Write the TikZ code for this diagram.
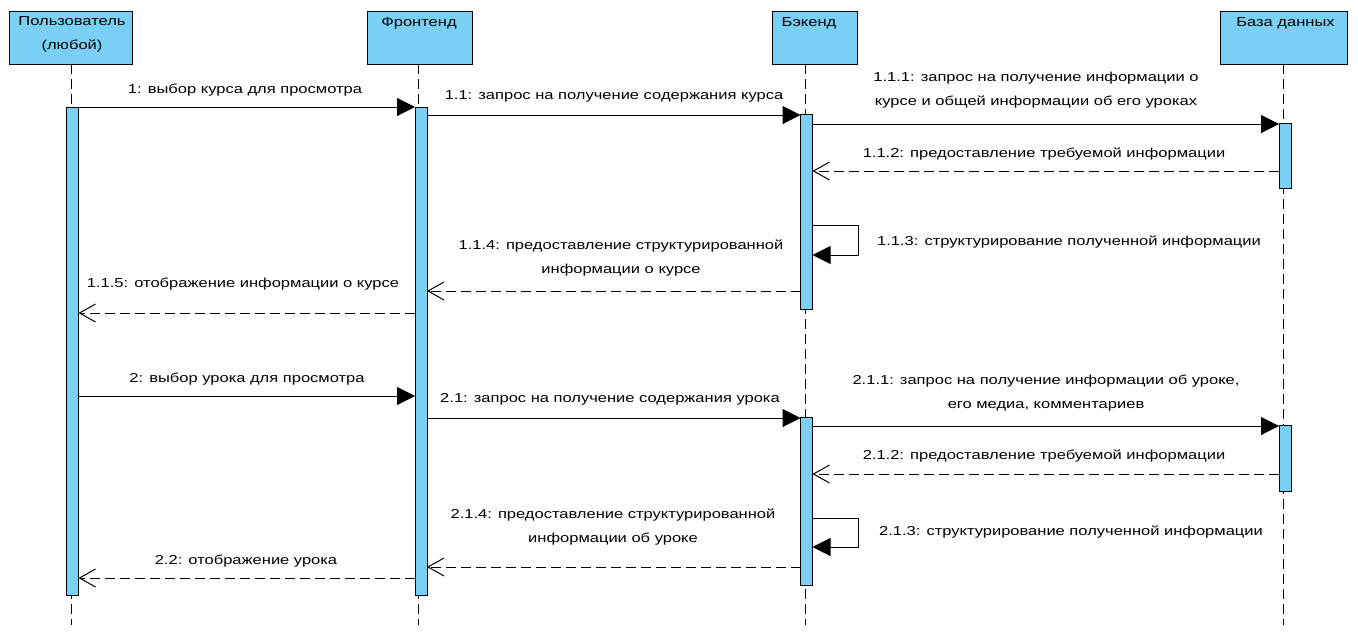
\documentclass[tikz,border=0pt]{standalone}
\usepackage{fontspec}
\setmainfont{Liberation Sans}[FakeStretch=1.27]
\usetikzlibrary{arrows.meta}
\definecolor{lblue}{RGB}{122,207,245}
\begin{document}
\begin{tikzpicture}[x=1pt,y=-1pt,
  every node/.style={font=\fontsize{13}{24}\selectfont, inner sep=0pt, outer sep=0pt},
  head/.style={draw, fill=lblue, line width=1pt},
  bar/.style={draw, fill=lblue, line width=1pt, minimum width=12pt},
  life/.style={line width=1pt, dash pattern=on 10pt off 5pt},
  msg/.style={line width=1pt, -{Triangle[length=18pt,width=18pt]}},
  ret/.style={line width=1pt, dash pattern=on 10pt off 5pt, -{Straight Barb[length=16pt,width=18pt]}},
  lbl/.style={align=center}
]
\useasboundingbox (0,0) rectangle (1358,633);

% heads
\node[head, minimum width=123pt, minimum height=53pt] (uh) at (71,37.5) {};
\node[lbl] (uht) at (72,34.5) {Пользователь\\(любой)};
\node[head, minimum width=105pt, minimum height=53pt] (fh) at (419.5,37.5) {};
\node (fht) at (419,23.5) {Фронтенд};
\node[head, minimum width=85pt, minimum height=53pt] (bh) at (815,37.5) {};
\node (bht) at (809,23.5) {Бэкенд};
\node[head, minimum width=127pt, minimum height=53pt] (dh) at (1283.5,37.5) {};
\node (dht) at (1285.5,23.5) {База данных};

% lifelines
\coordinate (ut) at (71,64);   \coordinate (ue) at (71,625);
\coordinate (ft) at (418.5,64); \coordinate (fe) at (418.5,625);
\coordinate (bt) at (805,64);  \coordinate (be) at (805,625);
\coordinate (dt) at (1283,64); \coordinate (de) at (1283,625);
\draw[life] (ut) -- (ue);
\draw[life] (ft) -- (fe);
\draw[life] (bt) -- (be);
\draw[life] (dt) -- (de);

% activation bars
\node[bar, minimum height=488pt] (ub) at (72.5,351) {};
\node[bar, minimum height=488pt] (fb) at (421,351) {};
\node[bar, minimum height=195pt] (bb1) at (806.5,211.5) {};
\node[bar, minimum height=168pt] (bb2) at (806.5,501) {};
\node[bar, minimum height=65pt] (db1) at (1285,155.5) {};
\node[bar, minimum height=66pt] (db2) at (1285,458) {};

% messages: course
\draw[msg] (ub.east |- 0,107) -- (fb.west |- 0,107);
\draw[msg] (fb.east |- 0,115) -- (bb1.west |- 0,115);
\draw[msg] (bb1.east |- 0,124) -- (db1.west |- 0,124);
\draw[ret] (db1.west |- 0,171) -- (bb1.east |- 0,171);
\draw[msg] (bb1.east |- 0,225) -- ++(45.5,0) |- (bb1.east |- 0,255);
\draw[ret] (bb1.west |- 0,291) -- (fb.east |- 0,291);
\draw[ret] (fb.west |- 0,313) -- (ub.east |- 0,313);

% messages: lesson
\draw[msg] (ub.east |- 0,396) -- (fb.west |- 0,396);
\draw[msg] (fb.east |- 0,418) -- (bb2.west |- 0,418);
\draw[msg] (bb2.east |- 0,426) -- (db2.west |- 0,426);
\draw[ret] (db2.west |- 0,474) -- (bb2.east |- 0,474);
\draw[msg] (bb2.east |- 0,518) -- ++(45.5,0) |- (bb2.east |- 0,547);
\draw[ret] (bb2.west |- 0,567) -- (fb.east |- 0,567);
\draw[ret] (fb.west |- 0,578) -- (ub.east |- 0,578);

% labels
\node (l1) at (245,90) {1: выбор курса для просмотра};
\node (l11) at (614,96) {1.1: запрос на получение содержания курса};
\node[lbl] (l111) at (1036,90) {1.1.1: запрос на получение информации о\\курсе и общей информации об его уроках};
\node (l112) at (1044,154) {1.1.2: предоставление требуемой информации};
\node (l113) at (1069,242) {1.1.3: структурирование полученной информации};
\node[lbl] (l114) at (621,258) {1.1.4: предоставление структурированной\\информации о курсе};
\node (l115) at (243,284) {1.1.5: отображение информации о курсе};
\node (l2) at (247,379) {2: выбор урока для просмотра};
\node (l21) at (610,399) {2.1: запрос на получение содержания урока};
\node[lbl] (l211) at (1046,393.5) {2.1.1: запрос на получение информации об уроке,\\его медиа, комментариев};
\node (l212) at (1044,456) {2.1.2: предоставление требуемой информации};
\node (l213) at (1071,532) {2.1.3: структурирование полученной информации};
\node[lbl] (l214) at (613,527) {2.1.4: предоставление структурированной\\информации об уроке};
\node (l22) at (246,561) {2.2: отображение урока};
\end{tikzpicture}
\end{document}
